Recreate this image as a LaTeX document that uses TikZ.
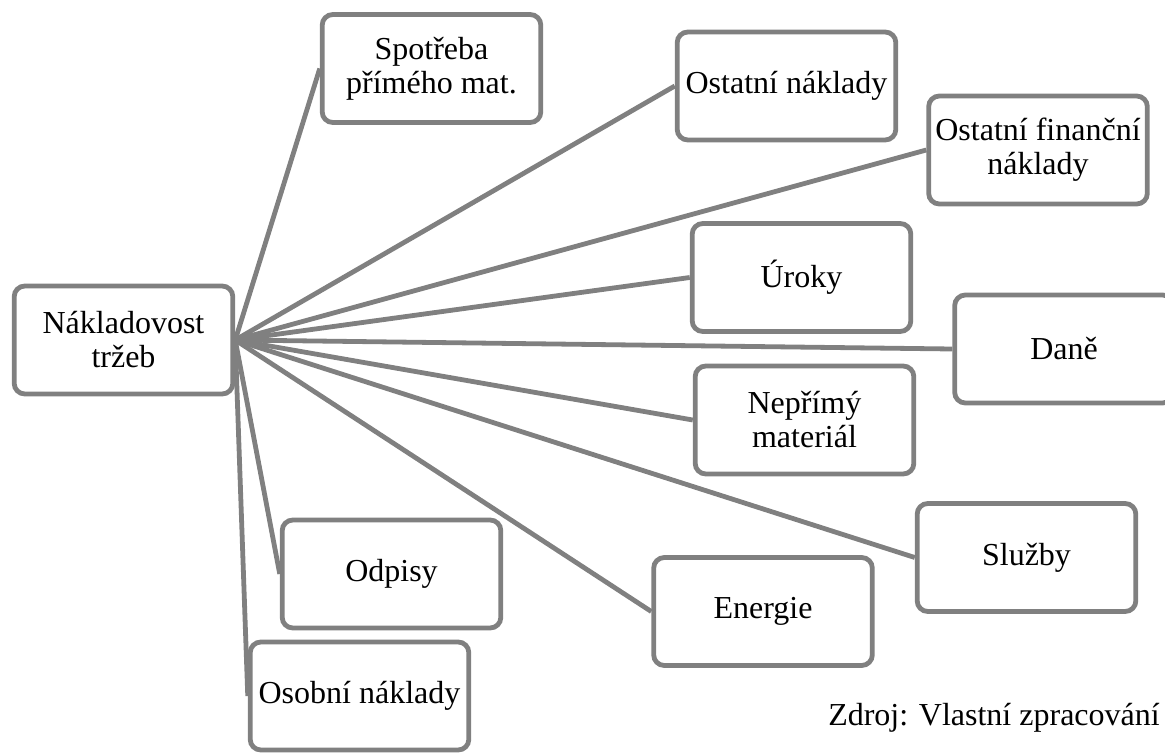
\documentclass[tikz,border=0pt]{standalone}
\usepackage{fontspec}
\setmainfont{Liberation Serif}
\usetikzlibrary{backgrounds}
\definecolor{linegray}{RGB}{128,128,128}
\tikzset{
  box/.style={draw=linegray, line width=3.6pt, rounded corners=8pt, fill=white,
    minimum width=164pt, minimum height=81pt, align=center, inner sep=0pt,
    font=\fontsize{24}{25.5}\selectfont},
  link/.style={draw=linegray, line width=3.6pt},
  note/.style={inner sep=0pt, anchor=base east, font=\fontsize{24}{25.5}\selectfont}
}
\begin{document}
\begin{tikzpicture}[x=0.75pt,y=-0.75pt]
\useasboundingbox (0,0) rectangle (1165,753);
\clip (0,0) rectangle (1165,753);
\node[box] (main) at (123.5,340) {Nákladovost\\tržeb};
\node[box] (spot) at (431.5,68.5) {Spotřeba\\přímého mat.};
\node[box] (ost) at (786.5,86) {Ostatní náklady};
\node[box] (ostfin) at (1038,150) {Ostatní finanční\\náklady};
\node[box] (uroky) at (801.5,277.5) {Úroky};
\node[box] (dane) at (1064,349) {Daně};
\node[box] (neprimy) at (804.5,420) {Nepřímý\\materiál};
\node[box] (sluzby) at (1026.5,557.5) {Služby};
\node[box] (energie) at (763,611.5) {Energie};
\node[box] (odpisy) at (391.5,574) {Odpisy};
\node[box] (osobni) at (359.5,696) {Osobní náklady};
\node[note] (zdroj) at (1160,725) {Zdroj: Vlastní zpracování};
\begin{pgfonlayer}{background}
\foreach \t in {spot,ost,ostfin,uroky,dane,neprimy,sluzby,energie,odpisy,osobni}
  \draw[link] (main.east) -- (\t.west);
\end{pgfonlayer}
\end{tikzpicture}
\end{document}
